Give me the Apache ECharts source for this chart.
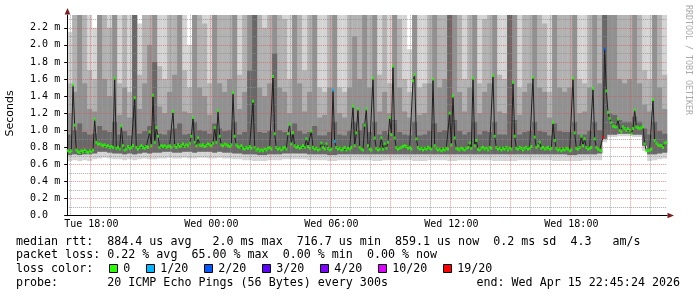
<!DOCTYPE html>
<html><head><meta charset="utf-8">
<script src="https://cdn.jsdelivr.net/npm/echarts@6/dist/echarts.min.js"></script>
<style>html,body{margin:0;padding:0;background:#fff}#c{width:697px;height:297px}</style>
</head><body><div id="c"></div>
<script>
// ---------- DATA ----------
// 5-minute samples, Tue 16:50 .. Wed 22:45
const tickLabels = ['Tue 18:00','Wed 00:00','Wed 06:00','Wed 12:00','Wed 18:00'];
const medianRtt = [ // ms
0.76,0.75,0.76,1.53,1.06,0.77,0.75,0.74,0.76,0.75,0.77,0.75,0.74,0.76,0.75,0.77,1.13,0.86,0.84,0.84,
0.83,0.82,0.83,0.81,0.82,0.80,0.81,0.80,1.61,0.79,0.80,0.78,1.05,0.82,0.77,0.78,0.81,0.79,0.80,0.82,
1.38,0.80,0.78,0.80,0.82,0.80,0.79,0.81,0.80,0.98,0.82,1.41,0.86,1.03,0.93,0.80,0.82,0.81,0.82,0.80,
0.81,0.82,0.80,1.22,0.82,0.80,0.83,0.81,0.82,0.84,0.81,0.83,0.82,0.85,0.93,1.15,0.86,0.82,0.91,0.83,
0.82,0.83,0.81,0.82,0.84,0.83,0.82,0.85,1.03,0.86,1.23,0.93,0.83,0.82,0.84,0.83,0.82,0.81,0.83,1.44,
0.93,0.83,0.81,0.80,0.82,0.79,0.78,0.80,0.79,0.81,0.79,1.34,0.80,0.77,0.78,0.76,0.77,0.76,0.78,0.77,
0.79,0.80,0.78,1.63,0.96,0.80,0.78,0.79,0.77,0.79,0.80,0.78,0.96,1.07,0.84,0.97,0.82,0.80,0.81,0.79,
0.80,0.82,0.80,0.90,0.81,0.79,0.99,0.80,0.78,0.79,0.77,0.78,0.85,0.80,0.78,0.84,0.79,0.77,0.78,1.47,
0.87,0.80,0.78,0.79,0.77,0.78,0.80,0.77,0.79,0.78,0.80,1.28,0.82,0.97,1.25,0.80,0.78,0.77,1.06,1.25,
0.82,0.78,0.77,1.61,0.91,0.79,0.77,0.78,0.91,0.78,0.84,0.79,0.86,1.15,0.95,1.75,0.91,0.80,0.78,0.79,
0.80,0.81,0.82,0.81,0.79,0.80,0.78,1.58,1.65,0.90,0.80,0.78,0.79,0.77,0.79,0.78,0.80,0.79,0.78,1.60,
0.82,0.79,0.77,0.78,0.76,0.78,0.77,0.79,0.78,1.20,0.83,1.40,0.91,0.79,0.78,0.77,0.79,0.78,0.77,0.79,
0.80,0.85,0.79,1.61,0.82,0.88,0.78,0.77,0.79,0.80,0.78,0.79,0.77,0.80,0.79,1.64,0.93,0.80,0.78,0.79,
0.77,0.79,0.78,0.80,0.77,0.79,0.78,1.56,0.93,0.79,0.78,0.80,0.79,0.77,0.79,0.80,0.78,0.79,0.81,1.62,
0.92,0.80,0.82,0.86,0.79,0.80,0.78,0.79,0.80,0.78,0.79,1.09,0.88,0.79,0.77,0.78,0.76,0.78,0.77,0.79,
0.78,0.76,0.77,1.61,0.97,0.79,0.78,0.80,0.93,0.82,0.90,0.80,0.78,0.79,0.80,1.49,0.90,0.80,0.78,0.77,
0.76,0.92,1.95,1.46,1.21,1.14,1.09,1.05,1.04,1.04,1.13,1.00,0.98,1.04,1.02,1.00,1.02,1.00,0.96,1.02,
1.24,1.04,1.03,1.02,1.03,1.04,0.84,0.76,0.76,0.77,0.78,1.36,0.88,0.85,0.83,0.82,0.82,0.80,0.85,0.86];
// samples with packet loss: [sample index, lost pings]
const lossPoints = [[159,1],[160,1],[321,19],[322,2]];
const lossLegend = ['0','1/20','2/20','3/20','4/20','10/20','19/20'];
const lossColors = ['#26ff00','#00b8ff','#0059ff','#5e00ff','#7e00ff','#dd00ff','#ff0000'];
const lossLevels = [0,1,2,3,4,10,19];

// smoke (ping distribution), 120 columns of 15 min
const smokeMin = [
0.64,0.65,0.64,0.65,0.64,0.66,0.67,0.68,0.67,0.66,0.66,0.65,0.66,0.65,0.66,0.67,0.66,0.66,0.67,0.67,
0.68,0.67,0.67,0.68,0.67,0.67,0.68,0.68,0.67,0.67,0.68,0.67,0.67,0.66,0.66,0.65,0.65,0.64,0.64,0.64,
0.65,0.65,0.65,0.66,0.66,0.66,0.66,0.66,0.65,0.65,0.65,0.65,0.64,0.64,0.65,0.65,0.65,0.65,0.65,0.65,
0.65,0.64,0.64,0.65,0.65,0.65,0.65,0.65,0.65,0.64,0.64,0.64,0.65,0.65,0.65,0.65,0.64,0.64,0.65,0.65,
0.65,0.65,0.65,0.65,0.65,0.64,0.64,0.64,0.64,0.64,0.65,0.65,0.65,0.65,0.65,0.65,0.65,0.64,0.64,0.64,
0.64,0.64,0.64,0.65,0.65,0.65,0.65,0.86,0.92,0.92,0.93,0.93,0.93,0.92,0.92,0.76,0.64,0.65,0.66,0.67];
const smokeLow = [
0.71,0.72,0.71,0.72,0.72,0.73,0.75,0.75,0.74,0.73,0.73,0.72,0.73,0.72,0.73,0.74,0.73,0.74,0.74,0.75,
0.75,0.74,0.74,0.75,0.75,0.74,0.75,0.75,0.75,0.74,0.75,0.74,0.74,0.73,0.73,0.72,0.72,0.72,0.71,0.71,
0.72,0.72,0.72,0.73,0.73,0.73,0.73,0.73,0.72,0.72,0.72,0.72,0.71,0.71,0.72,0.72,0.72,0.72,0.72,0.72,
0.72,0.72,0.72,0.72,0.72,0.72,0.72,0.72,0.72,0.72,0.72,0.72,0.72,0.72,0.72,0.72,0.72,0.72,0.72,0.72,
0.72,0.72,0.72,0.72,0.72,0.72,0.72,0.72,0.72,0.72,0.72,0.72,0.72,0.72,0.72,0.72,0.72,0.72,0.72,0.72,
0.71,0.71,0.72,0.72,0.72,0.72,0.73,0.90,0.95,0.95,0.96,0.96,0.96,0.95,0.95,0.82,0.72,0.72,0.73,0.74];
const smokeQ1 = [
0.95,1.00,1.08,0.98,0.95,0.96,1.05,1.00,0.98,1.10,0.95,0.99,0.94,2.40,0.96,0.99,1.05,1.80,0.96,0.95,
1.00,1.02,1.08,0.95,0.96,1.10,1.00,0.99,0.96,1.08,1.02,0.99,1.00,1.10,0.95,0.98,1.70,2.40,0.98,0.97,
0.99,1.90,1.00,0.98,0.95,1.08,0.99,0.96,0.98,1.05,0.94,0.94,0.98,1.10,0.95,0.94,0.99,1.10,1.00,1.08,
0.98,1.10,0.95,0.99,0.95,1.12,0.98,0.95,0.94,1.10,0.94,0.95,0.99,1.08,0.98,1.00,2.40,1.12,0.99,0.95,
0.98,1.10,0.95,0.99,0.98,1.10,0.95,0.95,2.40,1.12,0.95,0.98,0.99,1.10,0.99,0.98,0.94,1.08,0.99,0.98,
0.98,1.10,0.95,0.95,0.99,1.10,1.00,2.40,1.20,1.18,1.12,1.10,1.10,1.16,1.10,1.02,0.95,1.10,0.99,0.96];
const smokeQ2 = [
1.20,1.45,2.40,1.55,1.25,1.22,2.40,1.60,1.40,2.40,1.18,1.50,1.15,2.40,1.25,1.55,2.00,2.40,1.28,1.20,
1.45,1.65,2.40,1.22,1.20,2.40,1.50,1.40,1.18,2.40,1.55,1.45,1.60,2.40,1.25,1.45,2.40,2.40,1.50,1.40,
1.55,2.40,1.50,1.45,1.20,2.40,1.55,1.22,1.45,2.40,1.15,1.18,1.50,2.40,1.20,1.15,1.50,2.10,1.60,2.40,
1.50,2.40,1.22,1.45,1.20,2.40,1.50,1.22,1.15,2.40,1.18,1.20,1.55,2.40,1.50,1.60,2.40,2.40,1.45,1.22,
1.50,2.40,1.20,1.45,1.55,2.40,1.22,1.20,2.40,2.40,1.18,1.45,1.55,2.40,1.50,1.45,1.15,2.40,1.50,1.45,
1.50,2.40,1.20,1.22,1.50,2.40,1.55,2.40,2.40,2.40,1.60,1.55,1.60,2.40,1.55,1.30,1.22,2.40,1.50,1.25];
const smokeQ3 = [
1.55,2.40,2.40,2.40,1.70,1.60,2.40,2.40,2.20,2.40,1.55,2.40,1.45,2.40,1.65,2.40,2.40,2.40,1.75,1.60,
2.40,2.40,2.40,1.70,1.50,2.40,2.40,2.25,1.55,2.40,2.40,2.40,2.40,2.40,1.65,2.40,2.40,2.40,2.40,2.20,
2.40,2.40,2.40,2.30,1.60,2.40,2.40,1.70,2.40,2.40,1.50,1.45,2.40,2.40,1.50,1.45,2.40,2.40,2.40,2.40,
2.40,2.40,1.65,2.40,1.55,2.40,2.30,1.60,1.45,2.40,1.50,1.55,2.40,2.40,2.40,2.40,2.40,2.40,2.40,1.60,
2.40,2.40,1.55,2.30,2.40,2.40,1.65,1.60,2.40,2.40,1.50,2.40,2.40,2.40,2.40,2.25,1.45,2.40,2.40,2.40,
2.40,2.40,1.60,1.55,2.40,2.40,2.40,2.40,2.40,2.40,2.40,2.40,2.40,2.40,2.40,1.70,1.60,2.40,2.40,1.65];
const smokeMax = [
2.15,2.40,2.40,2.40,2.40,2.20,2.40,2.40,2.40,2.40,2.40,2.40,2.40,2.40,2.25,2.40,2.40,2.40,2.40,2.40,
2.40,2.40,2.40,2.40,2.00,2.40,2.40,2.40,2.40,2.40,2.40,2.40,2.40,2.40,2.40,2.40,2.40,2.40,2.40,2.40,
2.40,2.40,2.40,2.40,2.40,2.40,2.40,2.40,2.40,2.40,2.40,2.40,2.40,2.40,2.40,2.40,2.40,2.40,2.40,2.40,
2.40,2.40,2.40,2.40,2.40,2.40,2.40,2.40,1.95,2.40,2.40,2.40,2.40,2.40,2.40,2.40,2.40,2.40,2.40,2.40,
2.40,2.40,2.40,2.40,2.40,2.40,2.40,2.40,2.40,2.40,2.40,2.40,2.40,2.40,2.40,2.40,2.40,2.40,2.40,2.40,
2.40,2.40,2.40,2.40,2.40,2.40,2.40,2.40,2.40,2.40,2.40,2.40,2.40,2.40,2.40,2.40,2.40,2.40,2.40,2.40];

const legendLines = [
  'median rtt:  884.4 us avg   2.0 ms max  716.7 us min  859.1 us now  0.2 ms sd  4.3   am/s',
  'packet loss: 0.22 % avg  65.00 % max  0.00 % min  0.00 % now',
  'loss color:',
  'probe:       20 ICMP Echo Pings (56 Bytes) every 300s'
];
const endText = 'end: Wed Apr 15 22:45:24 2026';

// ---------- BUILD ----------
const pad = n => (n < 10 ? '0' : '') + n;
const timeLabel = m => (Math.floor(m / 1440) ? 'Wed ' : 'Tue ') + pad(Math.floor((m % 1440) / 60)) + ':' + pad(m % 60);
const sampleTimes = [], boundaryTimes = [];
for (let i = 0; i <= medianRtt.length; i++) {
  const m = 16 * 60 + 50 + 5 * i;
  if (i < medianRtt.length) sampleTimes.push(timeLabel(m));
  boundaryTimes.push(timeLabel(m));
}
const smokeCols = smokeMax.map((_, i) => 'c' + i);
const isHour = v => v.endsWith(':00');
const isMajor = v => isHour(v) && (+v.slice(4, 6)) % 3 === 0;
const hourLines = boundaryTimes.filter(isHour);

const lossMap = {};
lossPoints.forEach(p => lossMap[p[0]] = p[1]);
const colorFor = l => { let c = lossColors[0]; lossLevels.forEach((lv, k) => { if (l >= lv) c = lossColors[k]; }); return c; };

function band(name, lo, hi, color) {
  return [
    {type: 'bar', xAxisIndex: 2, stack: name, data: lo, barWidth: '100%', barGap: '-100%', silent: true, z: 1,
     itemStyle: {color: 'rgba(0,0,0,0)'}},
    {type: 'bar', xAxisIndex: 2, stack: name, data: hi.map((h, i) => +(h - lo[i]).toFixed(3)), barWidth: '100%', barGap: '-100%', silent: true, z: 1,
     itemStyle: {color: color}}
  ];
}

const mono = '"DejaVu Sans Mono"';
const graphic = [];
const lineY = [241.7, 255.3, 269, 282.7];
legendLines.forEach((t, k) => graphic.push({type: 'text', x: 16, y: lineY[k], z: 10,
  style: {text: t, font: '11.66px ' + mono, fill: '#000', align: 'left', verticalAlign: 'middle'}}));
graphic.push({type: 'text', x: 680, y: lineY[3], z: 10,
  style: {text: endText, font: '11.66px ' + mono, fill: '#000', align: 'right', verticalAlign: 'middle'}});
let lx = 108.7;
lossLegend.forEach((t, k) => {
  graphic.push({type: 'rect', z: 10, shape: {x: Math.round(lx) + 0.5, y: 264.5, width: 8, height: 8},
    style: {fill: lossColors[k], stroke: '#000', lineWidth: 1}});
  graphic.push({type: 'text', x: lx + 14.6, y: lineY[2], z: 10,
    style: {text: t, font: '11.66px ' + mono, fill: '#000', align: 'left', verticalAlign: 'middle'}});
  lx = lx + 14.6 + t.length * 7.02 + 15.3;
});
graphic.push({type: 'text', x: 10, y: 113.5, rotation: Math.PI / 2, z: 10,
  style: {text: 'Seconds', font: '11px "DejaVu Sans"', fill: '#000', align: 'center', verticalAlign: 'middle'}});
graphic.push({type: 'text', x: 688, y: 60, rotation: -Math.PI / 2, z: 10,
  style: {text: 'RRDTOOL / TOBI OETIKER', font: '8.3px ' + mono, fill: '#aaaaaa', align: 'center', verticalAlign: 'middle'}});
graphic.push({type: 'polygon', z: 10, shape: {points: [[64.7, 14.5], [70.3, 14.5], [67.5, 8]]}, style: {fill: '#7f1f1f'}});
graphic.push({type: 'polygon', z: 10, shape: {points: [[667.5, 212.7], [667.5, 218.3], [674, 215.5]]}, style: {fill: '#7f1f1f'}});

const GL = 67.167;
const chart = echarts.init(document.getElementById('c'), null, {renderer: 'canvas'});
chart.setOption({
  animation: false,
  backgroundColor: '#fff',
  grid: {left: GL, top: 15, width: 600, height: 200.7, containLabel: false, outerBoundsMode: 'none'},
  xAxis: [
    {type: 'category', data: sampleTimes, boundaryGap: true, position: 'bottom', z: 3,
     axisLine: {show: true, onZero: false, lineStyle: {color: '#000', width: 1}},
     axisTick: {show: false},
     axisLabel: {interval: (i, v) => tickLabels.indexOf(v) >= 0, fontFamily: 'DejaVu Sans Mono', fontSize: 10, color: '#000', margin: 4},
     splitLine: {show: false}},
    {type: 'category', data: boundaryTimes, boundaryGap: false, show: false},
    {type: 'category', data: smokeCols, boundaryGap: true, show: false}
  ],
  yAxis: {type: 'value', min: 0, max: 2.35, interval: 0.2, z: 3,
    axisLine: {show: true, lineStyle: {color: '#000', width: 1}},
    axisTick: {show: true, length: 3, lineStyle: {color: '#000'}},
    axisLabel: {formatter: v => v === 0 ? '0.0  ' : v.toFixed(1) + ' m', showMaxLabel: false,
      fontFamily: 'DejaVu Sans Mono', fontSize: 10, color: '#000', margin: 7},
    splitLine: {show: true, showMinLine: false, showMaxLine: false, lineStyle: {color: 'rgba(222,80,80,0.6)', type: [1, 1], width: 1}},
    minorTick: {show: false, splitNumber: 2},
    minorSplitLine: {show: true, lineStyle: {color: 'rgba(143,143,143,0.75)', type: [1, 1], width: 1}}
  },
  series: [
    ...band('b1', smokeMin, smokeMax, '#d4d4d4'),
    ...band('b2', smokeLow, smokeQ3, '#b2b2b2'),
    ...band('b3', smokeLow, smokeQ2, '#919191'),
    ...band('b4', smokeLow, smokeQ1, '#686868'),
    {type: 'line', xAxisIndex: 1, data: [], silent: true, z: 3, symbol: 'none',
     markLine: {silent: true, symbol: ['none', 'none'], label: {show: false}, animation: false, z: 3,
       data: hourLines.map(t => ({xAxis: t, lineStyle: {color: isMajor(t) ? 'rgba(222,80,80,0.6)' : 'rgba(143,143,143,0.75)', type: [1, 1], width: 1}}))}},
    {type: 'line', xAxisIndex: 0, data: medianRtt, symbol: 'none', silent: true, z: 4,
     lineStyle: {color: '#202020', width: 1}},
    {type: 'scatter', xAxisIndex: 0, symbol: 'rect', symbolSize: [2, 3], silent: true, z: 5,
     data: medianRtt.map((v, i) => ({value: v, itemStyle: {color: colorFor(lossMap[i] || 0)}}))}
  ],
  graphic: graphic
});
</script>
</body></html>
